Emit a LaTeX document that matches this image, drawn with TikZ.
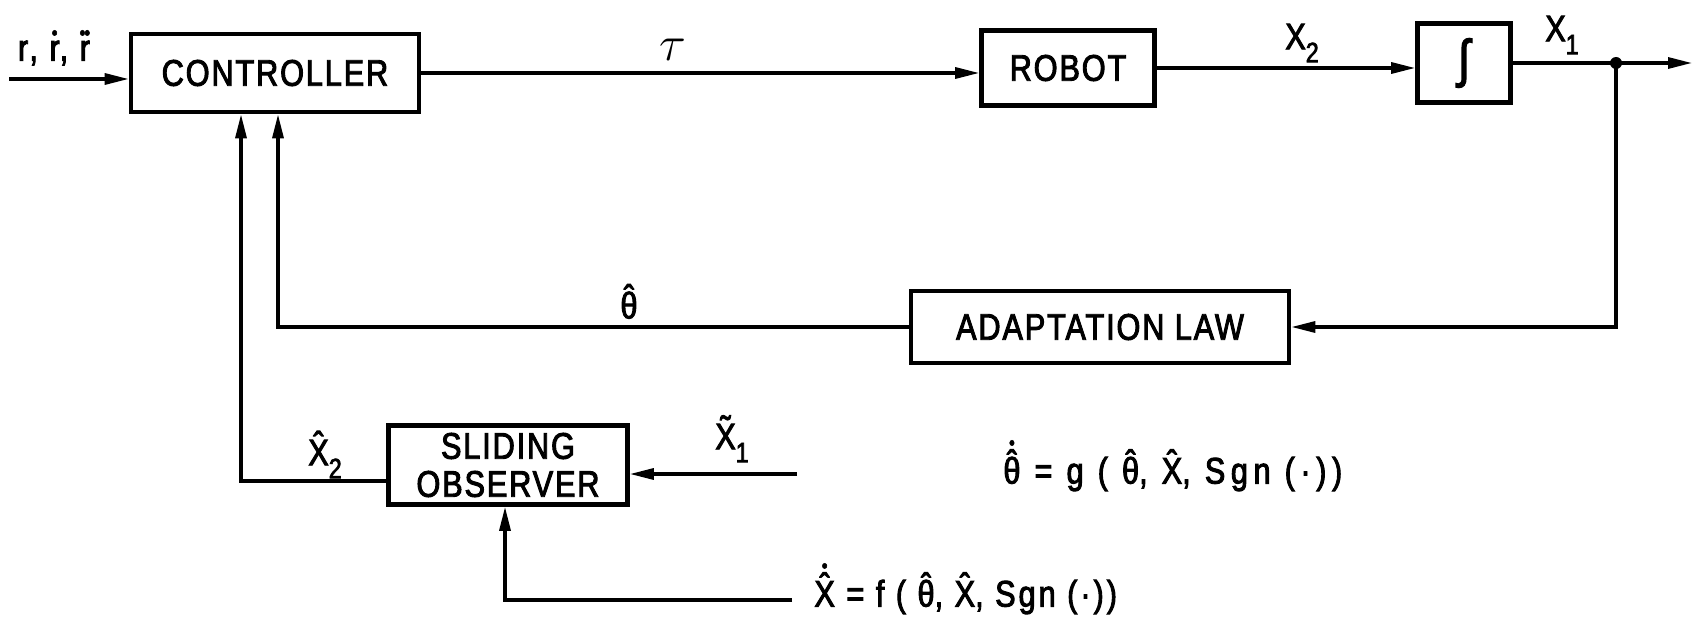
\documentclass[tikz,border=0pt]{standalone}
\usepackage{fontspec}
\setmainfont[FakeStretch=0.83,FakeBold=2.5]{Liberation Sans}
\newfontfamily\boxfont[FakeStretch=0.83,FakeBold=2.5,LetterSpace=5]{Liberation Sans}
\newfontfamily\labfont[FakeStretch=0.83,FakeBold=2.5,LetterSpace=8]{Liberation Sans}
\newfontfamily\widefont[FakeStretch=0.83,FakeBold=2.5,LetterSpace=15]{Liberation Sans}
\usetikzlibrary{arrows.meta}

% accents stacked over a base glyph
\newcommand\markover[3]{\ooalign{#3\cr\hidewidth\raisebox{#1}{#2}\hidewidth\cr}}
\newcommand\topdot{{\fontsize{10}{10}\selectfont •}}
\newcommand\hatX{\markover{0.2em}{ˆ}{X}}
\newcommand\tildeX{\markover{0.2em}{˜}{X}}
\newcommand\hatth{\markover{0.2em}{ˆ}{θ}}
\newcommand\dhatth{\markover{17pt}{\topdot}{\hatth}}
\newcommand\dhatX{\markover{17pt}{\topdot}{\hatX}}
\newcommand\dotr{\markover{10.5pt}{\topdot}{r}}
\newcommand\ddotr{\markover{10.5pt}{\topdot\kern-0.5pt\topdot}{r}}
\newcommand\lowidx[1]{\raisebox{-0.35em}{\fontsize{14}{14}\selectfont #1}}

\tikzset{
  blk/.style={draw, line width=2.3pt, rectangle, inner sep=0pt, align=center,
              font=\boxfont\fontsize{18.5}{19}\selectfont},
  conn/.style={line width=1.6pt},
  arr/.style={conn, -{Triangle[length=12pt,width=5.5pt]}},
  lbl/.style={inner sep=0pt, font=\labfont\fontsize{18.5}{20}\selectfont},
  wlbl/.style={lbl, font=\widefont\fontsize{18.5}{20}\selectfont},
}

\begin{document}
\begin{tikzpicture}[x=0.5pt,y=-0.5pt]
\useasboundingbox (0,0) rectangle (1701,620);

% blocks
\node[blk, minimum width=144pt, minimum height=39pt] (ctrl) at (275,73) {CONTROLLER};
\node[blk, minimum width=86.5pt, minimum height=37.5pt] (robot) at (1068,68) {ROBOT};
\node[blk, minimum width=46.5pt, minimum height=39.5pt] (int) at (1464,63) {\fontsize{26}{28}\selectfont ∫};
\node[blk, minimum width=189pt, minimum height=36pt] (adapt) at (1100,327) {ADAPTATION LAW};
\node[blk, minimum width=119.5pt, minimum height=39.5pt] (obs) at (508,465) {SLIDING\\OBSERVER};

% forward path
\coordinate (in) at (9,79);
\draw[arr] (in) -- (in -| ctrl.west);
\node[lbl] (rlab) at (54,53) {r, \dotr, \ddotr};
\draw[arr] (ctrl.east) -- (ctrl.east -| robot.west);
\node[lbl] (tau) at (673,50) {\fontsize{24}{24}\selectfont$\tau$};
\draw[arr] (robot.east) -- (robot.east -| int.west);
\node[lbl] (x2) at (1302,43) {X\lowidx{2}};
\coordinate (j) at (1616,63);
\coordinate (out) at (1692,63);
\draw[conn] (int.east) -- (j);
\draw[arr] (j) -- (out);
\fill (j) circle (3pt);
\node[lbl] (x1) at (1562,35) {X\lowidx{1}};

% adaptation loop
\draw[arr] (j) |- (adapt.east);
\coordinate (cin2) at (278,0);
\draw[arr] (adapt.west) -| (cin2 |- ctrl.south);
\node[lbl] (th) at (629,305) {\hatth};

% observer
\coordinate (cin1) at (241,0);
\draw[arr] ([yshift=-8pt]obs.west) -| (cin1 |- ctrl.south);
\node[lbl] (x2h) at (325,459) {\hatX\lowidx{2}};
\coordinate (x1in) at (797,474);
\draw[arr] (x1in) -- (x1in -| obs.east);
\node[lbl] (x1t) at (732,443) {\tildeX\lowidx{1}};
\coordinate (fb) at (792,600);
\coordinate (ob) at (505,0);
\draw[arr] (fb) -| (ob |- obs.south);

% update laws
\node[lbl, anchor=west] (feq) at (814,597) {\dhatX{} = f ( \hatth, \hatX, Sgn (·))};
\node[wlbl, anchor=west] (geq) at (1003,474) {\dhatth{} = g ( \hatth, \hatX, Sgn (·))};
\end{tikzpicture}
\end{document}
